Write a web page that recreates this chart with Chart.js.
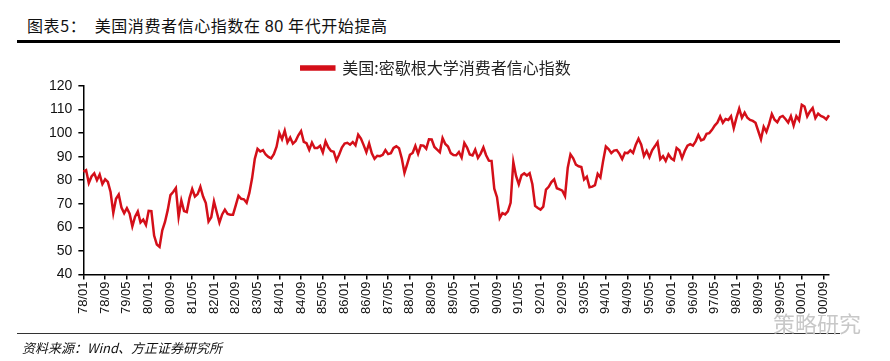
<!DOCTYPE html>
<html>
<head>
<meta charset="utf-8">
<script src="https://cdn.jsdelivr.net/npm/chart.js@4.4.8/dist/chart.umd.min.js"></script>
<style>
  html, body { margin: 0; padding: 0; background: #fff; }
  #wrap { position: relative; width: 890px; height: 361px; overflow: hidden; }
  #title { position: absolute; left: 27px; top: 13px; font: 16px "Noto Sans CJK SC", sans-serif; color: #111; letter-spacing: 0.6px; white-space: nowrap; }
  #title .num { font-family: "Liberation Sans", Arial, sans-serif; }
  #topline { position: absolute; left: 17px; top: 40px; width: 823px; height: 3px; background: #000; }
  #botline { position: absolute; left: 17px; top: 333px; width: 823px; height: 1px; background: #333; }
  #source { position: absolute; left: 22px; top: 338px; font: italic 13px "Noto Sans CJK SC", sans-serif; color: #111; white-space: nowrap; }
  #mark { position: absolute; left: 773px; top: 306px; font: 22px "Noto Sans CJK SC", sans-serif; color: #c8c8c8; white-space: nowrap; }
  canvas { position: absolute; left: 0; top: 0; }
</style>
</head>
<body>
<div id="wrap">
  <div id="title">图表5：&nbsp;&nbsp;美国消费者信心指数在 <span class="num">80</span> 年代开始提高</div>
  <div id="topline"></div>
  <canvas id="myChart" width="890" height="361"></canvas>
  <div id="botline"></div>
  <div id="mark">策略研究</div>
  <div id="source">资料来源：Wind、方正证券研究所</div>
</div>
<script>
  // 密歇根大学消费者信心指数, 月度, 1978/01 - 2000/11
  const y1978 = [83.7, 84.3, 78.8, 81.6, 82.9, 80.0, 82.4, 78.4, 80.4, 79.3, 75.0, 66.1];
  const y1979 = [72.1, 73.9, 68.4, 66.0, 68.1, 65.8, 60.4, 64.5, 66.7, 62.1, 63.3, 61.0];
  const y1980 = [67.0, 66.9, 56.5, 52.7, 51.7, 58.7, 62.3, 67.3, 73.7, 75.0, 76.7, 64.5];
  const y1981 = [71.4, 66.9, 66.5, 72.4, 76.3, 73.1, 74.1, 77.2, 73.1, 70.3, 62.5, 64.3];
  const y1982 = [71.0, 66.5, 62.0, 65.5, 67.5, 65.7, 65.4, 65.4, 69.3, 73.4, 72.1, 71.9];
  const y1983 = [70.4, 74.6, 80.8, 89.1, 93.3, 92.2, 92.8, 90.9, 89.9, 89.3, 91.1, 94.2];
  const y1984 = [100.1, 97.4, 101.0, 96.1, 98.1, 95.5, 96.6, 99.1, 100.9, 96.3, 95.7, 92.9];
  const y1985 = [96.0, 93.7, 93.7, 94.6, 91.8, 96.5, 94.0, 92.4, 92.1, 88.4, 90.9, 93.9];
  const y1986 = [95.6, 95.9, 95.1, 96.2, 94.8, 99.3, 97.7, 94.9, 91.9, 95.6, 91.4, 89.1];
  const y1987 = [90.4, 90.2, 90.8, 92.8, 91.1, 91.5, 93.7, 94.4, 93.6, 89.3, 83.1, 86.8];
  const y1988 = [90.8, 91.6, 94.6, 91.2, 94.8, 94.7, 93.4, 97.4, 97.3, 94.1, 93.0, 91.9];
  const y1989 = [97.9, 95.4, 94.3, 91.5, 90.7, 90.6, 92.0, 89.6, 95.8, 93.9, 90.9, 90.5];
  const y1990 = [93.0, 89.5, 91.3, 93.9, 90.6, 88.3, 88.2, 76.4, 72.8, 63.9, 66.0, 65.5];
  const y1991 = [66.8, 70.4, 87.7, 81.8, 78.3, 82.1, 82.9, 82.0, 83.0, 78.3, 69.1, 68.2];
  const y1992 = [67.5, 68.8, 76.0, 77.2, 79.2, 80.4, 76.6, 76.1, 75.6, 73.3, 85.3, 91.0];
  const y1993 = [89.3, 86.6, 85.9, 85.6, 80.3, 81.5, 77.0, 77.3, 77.9, 82.7, 81.2, 88.2];
  const y1994 = [94.3, 93.2, 91.5, 92.6, 92.8, 91.2, 89.0, 91.7, 91.5, 92.7, 91.6, 95.1];
  const y1995 = [97.6, 95.1, 90.3, 92.5, 89.8, 92.7, 94.4, 96.2, 88.9, 90.2, 88.2, 91.0];
  const y1996 = [89.3, 88.5, 93.7, 92.7, 89.4, 92.4, 94.7, 95.3, 94.7, 96.5, 99.2, 96.9];
  const y1997 = [97.4, 99.7, 100.0, 101.4, 103.2, 104.5, 107.1, 104.4, 106.0, 105.6, 107.2, 102.1];
  const y1998 = [106.6, 110.4, 106.5, 108.7, 106.5, 105.6, 105.2, 104.4, 100.9, 97.4, 102.7, 100.5];
  const y1999 = [103.9, 108.1, 105.7, 104.6, 106.8, 107.3, 106.0, 104.5, 107.2, 103.2, 107.2, 105.4];
  const y2000 = [112.0, 111.3, 107.1, 109.2, 110.7, 106.4, 108.3, 107.3, 106.8, 105.8, 107.6];

  const values = [].concat(y1978, y1979, y1980, y1981, y1982, y1983, y1984, y1985,
    y1986, y1987, y1988, y1989, y1990, y1991, y1992, y1993, y1994, y1995, y1996,
    y1997, y1998, y1999, y2000);

  const seriesName = '美国:密歇根大学消费者信心指数';
  const labelEvery = 8; // 每 8 个月标一个刻度
  const yTicks = [40, 50, 60, 70, 80, 90, 100, 110, 120];

  // 月份标签 78/01 ... 00/11
  const months = [];
  for (let i = 0; i < values.length; i++) {
    const yr = (78 + Math.floor(i / 12)) % 100;
    const mo = i % 12 + 1;
    months.push(String(yr).padStart(2, '0') + '/' + String(mo).padStart(2, '0'));
  }

  const red = '#d40f19';
  const ctx = document.getElementById('myChart');
  new Chart(ctx, {
    type: 'line',
    data: {
      labels: months,
      datasets: [{
        label: seriesName,
        data: values,
        borderColor: red,
        backgroundColor: red,
        borderWidth: 2.5,
        pointRadius: 0,
        tension: 0
      }]
    },
    options: {
      responsive: false,
      animation: false,
      layout: { padding: { left: 43, right: 61, top: 52, bottom: 45 } },
      plugins: {
        tooltip: { enabled: false },
        legend: {
          position: 'top',
          labels: {
            boxWidth: 33,
            boxHeight: 3,
            padding: 8,
            color: '#222',
            font: { family: '"Noto Sans CJK SC", sans-serif', size: 16 }
          }
        }
      },
      scales: {
        x: {
          offset: false,
          grid: { display: true, drawOnChartArea: false, drawTicks: true, tickLength: 5, color: '#000', lineWidth: 1.5 },
          border: { display: true, color: '#000', width: 1.5 },
          ticks: {
            autoSkip: false,
            maxRotation: 90,
            minRotation: 90,
            padding: 2,
            color: '#111',
            font: { family: '"Liberation Sans", Arial, sans-serif', size: 13 },
            callback: function (val, idx) {
              return idx % labelEvery === 0 ? months[idx] : null;
            }
          }
        },
        y: {
          min: 40,
          max: 120,
          afterBuildTicks: function (axis) {
            axis.ticks = yTicks.map(v => ({ value: v }));
          },
          grid: { display: true, drawOnChartArea: false, drawTicks: true, tickLength: 5, color: '#000', lineWidth: 1.5 },
          border: { display: true, color: '#000', width: 1.5 },
          ticks: {
            padding: 6,
            color: '#111',
            font: { family: '"Liberation Sans", Arial, sans-serif', size: 14 }
          }
        }
      }
    }
  });
</script>
</body>
</html>
